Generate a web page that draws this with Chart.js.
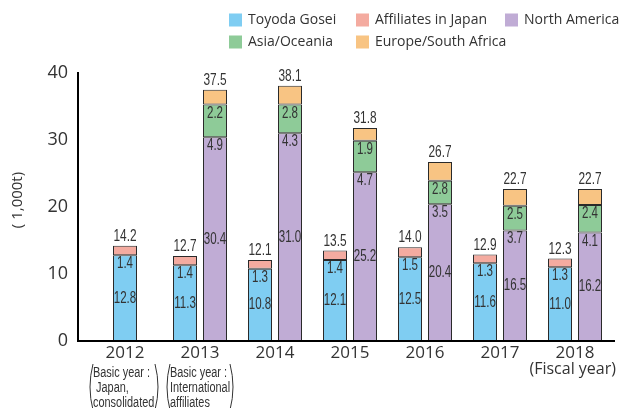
<!DOCTYPE html>
<html><head><meta charset="utf-8">
<script src="https://cdn.jsdelivr.net/npm/chart.js@4/dist/chart.umd.min.js"></script>
<style>html,body{margin:0;padding:0;background:#fff}#wrap{width:619px;height:408px;position:relative}</style>
</head><body><div id="wrap"><canvas id="c" width="619" height="408"></canvas></div>
<script>
const years = ['2012','2013','2014','2015','2016','2017','2018'];
const toyodaGosei = [12.8, 11.3, 10.8, 12.1, 12.5, 11.6, 11.0];
const affiliatesJapan = [1.4, 1.4, 1.3, 1.4, 1.5, 1.3, 1.3];
const japanTotals = [14.2, 12.7, 12.1, 13.5, 14.0, 12.9, 12.3];
const northAmerica = [null, 30.4, 31.0, 25.2, 20.4, 16.5, 16.2];
const asiaOceania = [null, 4.9, 4.3, 4.7, 3.5, 3.7, 4.1];
const europeSouthAfrica = [null, 2.2, 2.8, 1.9, 2.8, 2.5, 2.4];
const intlTotals = [null, 37.5, 38.1, 31.8, 26.7, 22.7, 22.7];
const yTicks = [0, 10, 20, 30, 40];
const legendNames = ['Toyoda Gosei','Affiliates in Japan','North America','Asia/Oceania','Europe/South Africa'];
const yTitle = '( 1,000t)';
const xTitle = '(Fiscal year)';
const note2012 = ['Basic year :', ' Japan,', 'consolidated'];
const note2013 = ['Basic year :', 'International', 'affiliates'];

const COLORS = ['#7fcdf2','#f4aba0','#c0acd5','#8ecb98','#f8c483'];
const MAIN = "'Open Sans', sans-serif";
const NARROW = "'Liberation Sans', Arial, sans-serif";
const TXT = '#333';

const ds = (i, data, stack, bottom) => ({
  label: legendNames[i], data, stack, bottom,
  backgroundColor: COLORS[i], borderColor: '#2a2a2a', borderWidth: 1, borderSkipped: false,
  maxBarThickness: 24, skipNull: true, categoryPercentage: 0.8, barPercentage: 0.8
});

function narrowText(ctx, t, x, y, sx) {
  ctx.save();
  ctx.translate(x, y);
  ctx.scale(sx, 1);
  ctx.fillText(t, 0, 0);
  ctx.restore();
}

const labelPlugin = {
  id: 'valueLabels',
  afterDatasetsDraw(chart) {
    const ctx = chart.ctx;
    ctx.save();
    ctx.fillStyle = TXT;
    ctx.textAlign = 'center';
    ctx.textBaseline = 'middle';
    ctx.font = '16.5px ' + NARROW;
    chart.data.datasets.forEach((d, di) => {
      const meta = chart.getDatasetMeta(di);
      meta.data.forEach((bar, i) => {
        const v = d.data[i];
        if (v == null) return;
        const p = bar.getProps(['x', 'y', 'base'], true);
        const y = d.bottom ? (p.y + p.base) / 2 : p.base + 8.5;
        narrowText(ctx, v.toFixed(1), p.x, y, 0.7);
      });
    });
    const tops = [[1, japanTotals], [4, intlTotals]];
    tops.forEach(([di, totals]) => {
      const meta = chart.getDatasetMeta(di);
      meta.data.forEach((bar, i) => {
        if (totals[i] == null) return;
        const p = bar.getProps(['x', 'y'], true);
        narrowText(ctx, totals[i].toFixed(1), p.x, p.y - 9.5, 0.72);
      });
    });
    ctx.restore();
  },
  afterDraw(chart) {
    const ctx = chart.ctx;
    const ca = chart.chartArea;
    const xs = chart.scales.x;
    const axisX = ca.left - 9.5;
    ctx.save();
    ctx.strokeStyle = '#000';
    ctx.lineWidth = 2;
    ctx.beginPath();
    ctx.moveTo(axisX, ca.top - 1);
    ctx.lineTo(axisX, ca.bottom);
    ctx.lineTo(619 - 4, ca.bottom);
    ctx.stroke();
    // y title
    ctx.fillStyle = TXT;
    ctx.font = '15px ' + MAIN;
    ctx.textAlign = 'center';
    ctx.textBaseline = 'middle';
    ctx.translate(18, 200);
    ctx.rotate(-Math.PI / 2);
    ctx.fillText(yTitle, 0, 0);
    ctx.setTransform(1, 0, 0, 1, 0, 0);
    // x title
    ctx.textAlign = 'right';
    ctx.font = '16px ' + MAIN;
    ctx.fillText(xTitle, 616, 369);
    // notes
    ctx.font = '14px ' + NARROW;
    ctx.textAlign = 'left';
    const drawNote = (lines, left, right, textX) => {
      lines.forEach((t, k) => narrowText(ctx, t, textX, 373 + k * 15, 0.78));
      ctx.lineWidth = 1;
      ctx.strokeStyle = TXT;
      ctx.beginPath();
      ctx.moveTo(left + 4, 364); ctx.quadraticCurveTo(left - 2, 387, left + 4, 410);
      ctx.moveTo(right - 4, 364); ctx.quadraticCurveTo(right + 2, 387, right - 4, 410);
      ctx.stroke();
    };
    const c0 = xs.getPixelForValue(0), c1 = xs.getPixelForValue(1);
    drawNote(note2012, c0 - 36, c0 + 34, c0 - 32);
    drawNote(note2013, c1 - 34, c1 + 34, c1 - 30);
    // legend
    const cols = [229, 356, 505];
    const pos = [[0, 0], [1, 0], [2, 0], [0, 1], [1, 1]];
    ctx.font = '14px ' + MAIN;
    ctx.textBaseline = 'middle';
    pos.forEach(([c, r], i) => {
      const x = cols[c], y = 20 + r * 22;
      ctx.fillStyle = COLORS[i];
      ctx.fillRect(x, y - 6.5, 13, 13);
      ctx.fillStyle = TXT;
      ctx.fillText(legendNames[i], x + 19, y);
    });
    ctx.restore();
  }
};

new Chart(document.getElementById('c'), {
  type: 'bar',
  data: {
    labels: years,
    datasets: [
      ds(0, toyodaGosei, 'japan', true),
      ds(1, affiliatesJapan, 'japan', false),
      ds(2, northAmerica, 'intl', true),
      ds(3, asiaOceania, 'intl', false),
      ds(4, europeSouthAfrica, 'intl', false)
    ]
  },
  options: {
    responsive: false,
    animation: false,
    devicePixelRatio: 1,
    layout: { padding: { top: 73, right: 6.5, left: 0, bottom: 0 } },
    plugins: { legend: { display: false }, tooltip: { enabled: false } },
    scales: {
      x: {
        stacked: true,
        grid: { display: false, drawTicks: false },
        border: { display: false },
        ticks: { font: { family: MAIN, size: 17 }, color: TXT, padding: 2, maxRotation: 0 },
        afterFit(s) { s.height = 67; }
      },
      y: {
        stacked: true, min: 0, max: 40,
        grid: { display: false, drawTicks: false },
        border: { display: false },
        afterBuildTicks(s) { s.ticks = yTicks.map(v => ({ value: v })); },
        ticks: { font: { family: MAIN, size: 18 }, color: TXT, padding: 19.5 },
        afterFit(s) { s.width = 87.5; }
      }
    }
  },
  plugins: [labelPlugin]
});
</script>
</body></html>
